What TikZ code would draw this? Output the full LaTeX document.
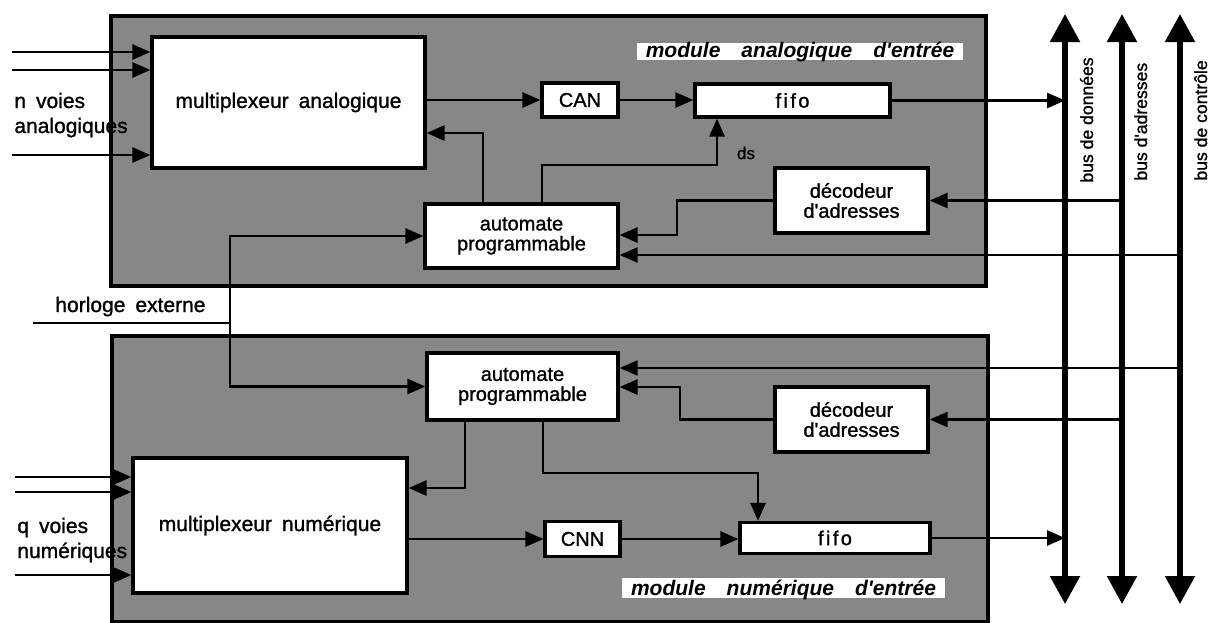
\documentclass[tikz,border=0pt]{standalone}
\usepackage{fontspec}
\setmainfont{Liberation Sans}[UprightFeatures={FakeBold=1.2}]
\usetikzlibrary{arrows.meta}
\newcommand{\ap}{\textquotesingle}
\newcommand{\fifotxt}{f\kern1.2pt i\kern1.2pt f\kern1.2pt o}
\begin{document}
\begin{tikzpicture}[x=0.5pt,y=-0.5pt,
  box/.style={draw, line width=1.6pt, fill=white, inner sep=0pt, align=center,
    font=\fontsize{10}{10}\selectfont},
  module/.style={draw, line width=1.6pt, fill=black!47, inner sep=0pt},
  conn/.style={line width=1.4pt, -{Triangle[length=9pt,width=7.5pt]}},
  plainline/.style={line width=1.4pt},
  thinconn/.style={line width=1.1pt, -{Triangle[length=9pt,width=7.5pt]}},
  bus/.style={line width=2.7pt,
    {Triangle[length=14pt,width=14.5pt]}-{Triangle[length=14pt,width=14.5pt]}},
  lab/.style={inner sep=0pt, font=\fontsize{10.5}{10.5}\selectfont},
  modlab/.style={fill=white, inner sep=0pt, text height=7pt, text depth=1.5pt,
    font=\bfseries\itshape\fontsize{10.5}{10.5}\selectfont},
  buslab/.style={rotate=90, anchor=base west, inner sep=0pt,
    font=\fontsize{8.8}{8.8}\selectfont}]
\useasboundingbox (0,0) rectangle (1211,622);

% modules
\node[module, minimum width=437.5pt, minimum height=135pt] (modA) at (548.5,151) {};
\node[module, minimum width=438pt, minimum height=143pt] (modB) at (550,479) {};

% module labels
\node[modlab, minimum width=163pt] (labA) at (800,51.5)
  {module\hspace{1em}analogique\hspace{1em}d\ap entrée};
\node[modlab, minimum width=161.5pt, text height=8.5pt] (labB) at (783.5,588)
  {module\hspace{1em}numérique\hspace{1em}d\ap entrée};

% boxes, top module
\node[box, minimum width=136.5pt, minimum height=65.5pt,
  font=\fontsize{10.5}{10.5}\selectfont] (muxA) at (288.5,102.5)
  {multiplexeur\hspace{5pt}analogique};
\node[box, minimum width=38pt, minimum height=17pt] (canA) at (580,100) {CAN};
\node[box, minimum width=97.5pt, minimum height=16.5pt] (fifoA) at (792.5,100.5) {\fifotxt};
\node[box, minimum width=76.5pt, minimum height=32.5pt] (decA) at (851.5,200.5)
  {décodeur\\d\ap adresses};
\node[box, minimum width=96.5pt, minimum height=32pt] (autA) at (521.5,236)
  {automate\\programmable};

% boxes, bottom module
\node[box, minimum width=95.5pt, minimum height=33.5pt] (autB) at (522.5,386.5)
  {automate\\programmable};
\node[box, minimum width=76.5pt, minimum height=32.5pt] (decB) at (851.5,419.5)
  {décodeur\\d\ap adresses};
\node[box, minimum width=137pt, minimum height=67.5pt,
  font=\fontsize{10.5}{10.5}\selectfont] (muxB) at (270,525.5)
  {multiplexeur\hspace{5pt}numérique};
\node[box, minimum width=37.5pt, minimum height=17.5pt] (cnn) at (582.5,539) {CNN};
\node[box, minimum width=95pt, minimum height=15.5pt] (fifoB) at (835,538) {\fifotxt};

% buses
\coordinate (bDt) at (1065,14); \coordinate (bDb) at (1065,604);
\coordinate (bAt) at (1122,14); \coordinate (bAb) at (1122,604);
\coordinate (bCt) at (1180,14); \coordinate (bCb) at (1180,604);
\draw[bus] (bDt) -- (bDb);
\draw[bus] (bAt) -- (bAb);
\draw[bus] (bCt) -- (bCb);
\node[buslab] (lbD) at (1093,183) {bus de données};
\node[buslab] (lbA) at (1147,181) {bus d\ap adresses};
\node[buslab] (lbC) at (1207,181) {bus de contrôle};

% bus branches
\draw[conn] (fifoA.east) -- (fifoA.east -| bDt);
\coordinate (a1) at (1122,200.5);
\draw[thinconn] (a1) -- (a1 -| decA.east);
\coordinate (c1) at (1180,255);
\draw[thinconn] (c1) -- (c1 -| autA.east);
\coordinate (c2) at (1180,368);
\draw[thinconn] (c2) -- (c2 -| autB.east);
\coordinate (a2) at (1122,419.5);
\draw[thinconn] (a2) -- (a2 -| decB.east);
\draw[conn] (fifoB.east) -- (fifoB.east -| bDt);

% inputs
\coordinate (iA1) at (12,52); \coordinate (iA2) at (12,70); \coordinate (iA3) at (12,155);
\draw[conn] (iA1) -- (iA1 -| muxA.west);
\draw[conn] (iA2) -- (iA2 -| muxA.west);
\draw[conn] (iA3) -- (iA3 -| muxA.west);
\coordinate (iB1) at (15,477); \coordinate (iB2) at (15,492); \coordinate (iB3) at (15,575);
\draw[conn] (iB1) -- (iB1 -| muxB.west);
\draw[conn] (iB2) -- (iB2 -| muxB.west);
\draw[conn] (iB3) -- (iB3 -| muxB.west);
\node[lab, anchor=base west] (nv1) at (14,108) {n\hspace{5pt}voies};
\node[lab, anchor=base west] (nv2) at (14,133) {analogiques};
\node[lab, anchor=base west] (qv1) at (17,533) {q\hspace{5pt}voies};
\node[lab, anchor=base west] (qv2) at (17,558) {numériques};

% clock
\coordinate (h0) at (33,323); \coordinate (h1) at (230,323);
\draw[plainline] (h0) -- (h1);
\draw[conn] (h1) |- (autA.west);
\draw[conn] (h1) |- (autB.west);
\node[lab, anchor=base west] (hlab) at (55,312) {horloge\hspace{5pt}externe};

% chains
\draw[conn] (canA.west -| muxA.east) -- (canA.west);
\draw[conn] (canA.east) -- (canA.east -| fifoA.west);
\draw[conn] (cnn.west -| muxB.east) -- (cnn.west);
\draw[conn] (cnn.east) -- (cnn.east -| fifoB.west);

% top module internal control
\coordinate (m1) at (483,133);
\draw[conn] (m1 |- autA.north) -- (m1) -- (m1 -| muxA.east);
\coordinate (d1) at (542,165); \coordinate (d2) at (717,165);
\draw[conn] (d1 |- autA.north) -- (d1) -- (d2) -- (d2 |- fifoA.south);
\node[inner sep=0pt, font=\fontsize{8.5}{8.5}\selectfont] (ds) at (746,153) {ds};
\coordinate (k1) at (677,235);
\draw[conn] (decA.west) -| (k1) -- (k1 -| autA.east);

% bottom module internal control
\coordinate (k2) at (680,387);
\draw[conn] (decB.west) -| (k2) -- (k2 -| autB.east);
\coordinate (m2) at (465,488);
\draw[conn] (m2 |- autB.south) -- (m2) -- (m2 -| muxB.east);
\coordinate (d3) at (543,473); \coordinate (d4) at (758,473);
\draw[conn] (d3 |- autB.south) -- (d3) -- (d4) -- (d4 |- fifoB.north);
\end{tikzpicture}
\end{document}
